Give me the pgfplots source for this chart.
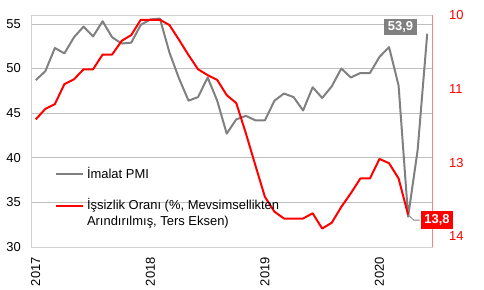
\documentclass[border=0pt]{standalone}
\usepackage{fontspec}
\setmainfont{Liberation Sans}
\usepackage{pgfplots}
\pgfplotsset{compat=1.18}
\definecolor{pmigray}{RGB}{128,128,128}
\definecolor{gridc}{RGB}{191,191,191}
\definecolor{boxc}{RGB}{210,210,210}
\definecolor{axred}{RGB}{255,128,128}
\newcommand{\chfont}{\fontsize{13}{15.8}\selectfont}
\pgfplotsset{
  common/.style={
    scale only axis, width=401bp, height=232bp,
    xmin=-0.5, xmax=41.5,
    font=\chfont,
    tick label style={font=\chfont},
    /pgf/number format/assume math mode=true,
    major tick length=0pt,
    clip=false,
  }
}
\begin{document}
\begin{tikzpicture}
\path[use as bounding box] (-31bp,-43bp) rectangle (453bp,247bp);
\begin{axis}[common,
  ymin=30, ymax=56, ytick={30,35,40,45,50,55},
  ymajorgrids, grid style={gridc, line width=0.8bp},
  axis line style={boxc, line width=0.8bp},
  xtick={0,12,24,36}, xticklabels={2017,2018,2019,2020},
  xticklabel style={rotate=90, anchor=east, inner sep=0pt},
  xticklabel shift=10bp,
  yticklabel style={anchor=east, inner sep=0pt},
  yticklabel shift=10bp,
]
\addplot[pmigray, line width=2bp, line join=round] table {
0 48.7
1 49.7
2 52.3
3 51.7
4 53.5
5 54.7
6 53.6
7 55.3
8 53.5
9 52.8
10 52.9
11 54.9
12 55.5
13 55.6
14 51.8
15 48.9
16 46.4
17 46.8
18 49.0
19 46.4
20 42.7
21 44.3
22 44.7
23 44.2
24 44.2
25 46.4
26 47.2
27 46.8
28 45.3
29 47.9
30 46.7
31 48.0
32 50.0
33 49.0
34 49.5
35 49.5
36 51.3
37 52.4
38 48.1
39 33.4
40 40.9
41 53.9
};
\node[fill=pmigray, text=white, font=\chfont\bfseries, inner xsep=3.5bp, inner ysep=2.5bp] at (axis cs:38.2,54.7) {53,9};
\end{axis}
\begin{axis}[common,
  axis x line=none, axis y line*=right,
  y dir=reverse, ymin=10, ymax=14.4,
  ytick={10,11.4,12.8,14.2}, yticklabels={10,11,13,14},
  yticklabel style={red, anchor=west, inner sep=0pt},
  yticklabel shift=17bp,
  axis line style={axred, line width=0.8bp},
  legend style={at={(0.0599,0.349)}, anchor=north west, draw=none, fill=none,
    inner sep=0pt, outer sep=0pt, row sep=0pt, column sep=3bp, font=\chfont,
    nodes={inner sep=0pt, text height=12bp, text depth=3.8bp}},
  legend cell align=left,
  legend image code/.code={\draw[#1] (0bp,0bp) -- (27bp,0bp);},
]
\addlegendimage{pmigray, line width=2bp}
\addlegendentry{İmalat PMI}
\addlegendimage{empty legend}
\addlegendentry{\phantom{A}}
\addplot[red, line width=2bp, line join=round] table {
0 11.98
1 11.78
2 11.69
3 11.31
4 11.22
5 11.03
6 11.03
7 10.75
8 10.75
9 10.49
10 10.38
11 10.09
12 10.09
13 10.09
14 10.19
15 10.47
16 10.76
17 11.03
18 11.14
19 11.23
20 11.52
21 11.67
22 12.24
23 12.85
24 13.45
25 13.73
26 13.86
27 13.86
28 13.86
29 13.76
30 14.05
31 13.94
32 13.64
33 13.38
34 13.10
35 13.10
36 12.73
37 12.81
38 13.10
39 13.79
};
\addlegendentry{İşsizlik Oranı (\%, Mevsimsellikten}
\addlegendimage{empty legend}
\addlegendentry{Arındırılmış, Ters Eksen)}
\draw[pmigray, line width=0.8bp] (axis cs:39,13.79) -- (axis cs:39.6,13.89) -- (axis cs:40.2,13.89);
\node[fill=red, text=white, font=\chfont\bfseries, inner xsep=3.5bp, inner ysep=3.5bp] at (axis cs:42.02,13.89) {13,8};
\end{axis}
\end{tikzpicture}
\end{document}
